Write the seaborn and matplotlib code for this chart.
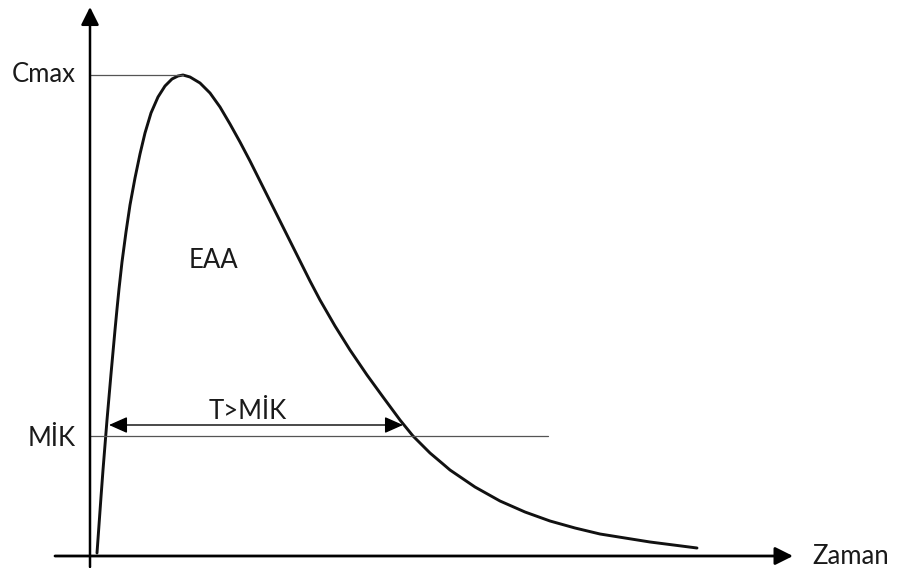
import numpy as np
import pandas as pd
import matplotlib
matplotlib.use('Agg')
import matplotlib.pyplot as plt
import seaborn as sns
from matplotlib.patches import ArrowStyle

# concentration-time curve
time = [0.07, 0.09, 0.11, 0.13, 0.15, 0.17, 0.19, 0.21, 0.23, 0.25, 0.27, 0.29,
        0.32, 0.36, 0.40, 0.45, 0.50, 0.55, 0.61, 0.68, 0.75, 0.82, 0.88, 0.93,
        1.00, 1.10, 1.20, 1.30, 1.40, 1.50, 1.60, 1.70, 1.80, 1.90, 2.00, 2.10,
        2.20, 2.30, 2.45, 2.60, 2.77, 2.93, 3.10, 3.23, 3.40, 3.53, 3.60, 3.85,
        4.10, 4.35, 4.60, 4.85, 5.10, 5.60, 6.07]
conc = [0.03, 0.31, 0.59, 0.86, 1.11, 1.36, 1.59, 1.82, 2.04, 2.26, 2.47, 2.67,
        2.94, 3.24, 3.51, 3.78, 4.02, 4.23, 4.43, 4.59, 4.70, 4.77, 4.80, 4.81,
        4.79, 4.73, 4.63, 4.49, 4.32, 4.14, 3.95, 3.75, 3.55, 3.35, 3.15, 2.95,
        2.75, 2.56, 2.30, 2.06, 1.81, 1.59, 1.36, 1.20, 1.03, 0.92, 0.86, 0.69,
        0.55, 0.44, 0.35, 0.28, 0.22, 0.14, 0.08]
mik = 1.20
mik_line_end = 4.58
above_mik = [0.19, 3.13]   # T>MİK arrow span
above_y = 1.31

labels = {'cmax': 'Cmax', 'mik': 'MİK', 'x': 'Zaman', 'auc': 'EAA', 'tmik': 'T>MİK'}

df = pd.DataFrame({'time': time, 'conc': conc})
cmax = df['conc'].max()
tmax = df.loc[df['conc'].idxmax(), 'time']

sns.set_theme(style='white')
plt.rcParams['font.family'] = ['Lato', 'DejaVu Sans']

fig = plt.figure(figsize=(9.06, 5.68), dpi=100)
ax = fig.add_axes([0, 0, 1, 1])
ax.set_xlim(-0.90, 8.16)
ax.set_ylim(-0.12, 5.56)
ax.axis('off')

sns.lineplot(data=df, x='time', y='conc', ax=ax, color='#111111', linewidth=2.1,
             estimator=None, sort=False, legend=False,
             solid_joinstyle='round', solid_capstyle='round')

# axes with arrow heads
head = ArrowStyle('-|>', head_length=0.4, head_width=0.2)
ax.annotate('', xy=(0, 5.49), xytext=(0, -0.11),
            arrowprops=dict(arrowstyle=head, color='black', lw=1.8,
                            mutation_scale=27, shrinkA=0, shrinkB=0))
ax.annotate('', xy=(7.03, 0), xytext=(-0.35, 0),
            arrowprops=dict(arrowstyle=head, color='black', lw=2.0,
                            mutation_scale=27, shrinkA=0, shrinkB=0))

# Cmax and MIK guides
ax.plot([0, tmax], [cmax, cmax], color='#555555', lw=0.9)
ax.plot([0, mik_line_end], [mik, mik], color='#555555', lw=0.9)

# T>MIK double arrow
dbl = ArrowStyle('<|-|>', head_length=0.45, head_width=0.2)
ax.annotate('', xy=(above_mik[1], above_y), xytext=(above_mik[0], above_y),
            arrowprops=dict(arrowstyle=dbl, color='black', lw=1.0,
                            mutation_scale=25, shrinkA=0, shrinkB=0))

txt = dict(fontsize=18.5, color='#1a1a1a', va='baseline', ha='center')
ax.text(-0.46, 4.74, labels['cmax'], **txt)
ax.text(-0.38, 1.10, labels['mik'], **txt)
ax.text(7.61, -0.08, labels['x'], **txt)
ax.text(1.23, 2.88, labels['auc'], **txt)
ax.text(1.58, 1.37, labels['tmik'], **txt)

fig.savefig('out.png', dpi=100)
